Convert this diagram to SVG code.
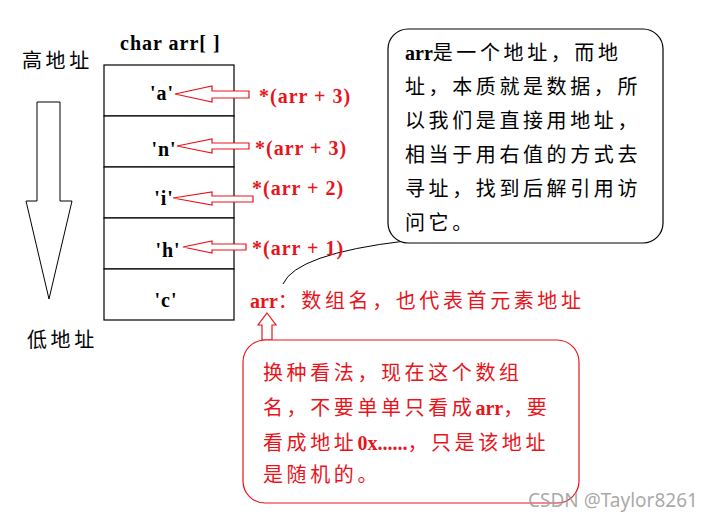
<svg xmlns="http://www.w3.org/2000/svg" width="712" height="522" viewBox="0 0 712 522">
<style>
  .t { font-family: "Liberation Serif", "Noto Sans CJK SC", serif; font-size: 20px; }
  .lat { font-weight: bold; letter-spacing: 1px; }
  .arr { font-weight: bold; letter-spacing: 0px; }
  .blk { fill: #000; }
  .red { fill: #e8141c; }
  .cjk { letter-spacing: 3.6px; }
  .cell { fill: #fff; stroke: #000; stroke-width: 1.2; }
  .harrow { fill: #fff; stroke: #e8141c; stroke-width: 1.2; }
</style>
<rect width="712" height="522" fill="#fff"/>

<g id="labels-left">
  <text class="t blk cjk" x="22" y="68">高地址</text>
  <text class="t blk cjk" x="27" y="347">低地址</text>
  <polygon points="37,102 60,102 60,201 72,201 49,299 26,201 37,201" fill="#fff" stroke="#000" stroke-width="1"/>
</g>

<g id="array">
  <text class="t blk lat" x="120" y="50" letter-spacing="0.7">char arr[ ]</text>
  <rect class="cell" x="104" y="65" width="130" height="51"/>
  <rect class="cell" x="104" y="116" width="130" height="51"/>
  <rect class="cell" x="104" y="167" width="130" height="51"/>
  <rect class="cell" x="104" y="218" width="130" height="51"/>
  <rect class="cell" x="104" y="269" width="130" height="51"/>
  <text class="t blk lat" x="162" y="100" text-anchor="middle">'a'</text>
  <text class="t blk lat" x="164" y="156" text-anchor="middle">'n'</text>
  <text class="t blk lat" x="164" y="205" text-anchor="middle">'i'</text>
  <text class="t blk lat" x="168" y="257" text-anchor="middle">'h'</text>
  <text class="t blk lat" x="166" y="307" text-anchor="middle">'c'</text>
</g>

<g id="connectors">
  <polygon class="harrow" points="175,94 212,86 212,91 249,91 249,98 212,98 212,102"/>
  <polygon class="harrow" points="177,146 212,139 212,143 249,143 249,149 212,149 212,153"/>
  <polygon class="harrow" points="173,198 212,192 212,196 253,196 253,202 212,202 212,205"/>
  <polygon class="harrow" points="183,247 212,241 212,244 246,244 246,250 212,250 212,253"/>
  <polygon class="harrow" points="267,313 276,325 272,325 272,340 262,340 262,325 258,325"/>
  <path d="M283,284 Q296,254 405,241" fill="none" stroke="#000" stroke-width="1"/>
</g>

<g id="pointer-labels">
  <text class="t red lat" x="259" y="103">*(arr + 3)</text>
  <text class="t red lat" x="255" y="155">*(arr + 3)</text>
  <text class="t red lat" x="252" y="195">*(arr + 2)</text>
  <text class="t red lat" x="252" y="255">*(arr + 1)</text>
  <text class="t red" x="250" y="308"><tspan class="arr">arr</tspan><tspan class="cjk">：数组名，也代表首元素地址</tspan></text>
</g>

<g id="note-black">
  <rect x="388" y="29" width="275" height="214" rx="20" ry="20" fill="#fff" stroke="#000" stroke-width="1.2"/>
  <text class="t blk" x="405" y="60"><tspan class="arr">arr</tspan><tspan class="cjk">是一个地址，而地</tspan></text>
  <text class="t blk cjk" x="405" y="94">址，本质就是数据，所</text>
  <text class="t blk cjk" x="405" y="128">以我们是直接用地址，</text>
  <text class="t blk cjk" x="405" y="162">相当于用右值的方式去</text>
  <text class="t blk cjk" x="405" y="196">寻址，找到后解引用访</text>
  <text class="t blk cjk" x="405" y="230">问它。</text>
</g>

<g id="note-red">
  <rect x="243" y="340" width="336" height="163" rx="22" ry="22" fill="#fff" stroke="#e8141c" stroke-width="1.2"/>
  <text class="t red cjk" x="263" y="380">换种看法，现在这个数组</text>
  <text class="t red" x="263" y="415"><tspan class="cjk">名，不要单单只看成</tspan><tspan class="arr">arr</tspan><tspan class="cjk">，要</tspan></text>
  <text class="t red" x="263" y="450"><tspan class="cjk">看成地址</tspan><tspan class="arr" letter-spacing="1.5">0x......</tspan><tspan class="cjk">，只是该地址</tspan></text>
  <text class="t red cjk" x="263" y="482">是随机的。</text>
</g>

<text x="528" y="507" font-family="'Noto Sans', sans-serif" font-size="19" fill="#999" fill-opacity="0.85">CSDN @Taylor8261</text>
</svg>
